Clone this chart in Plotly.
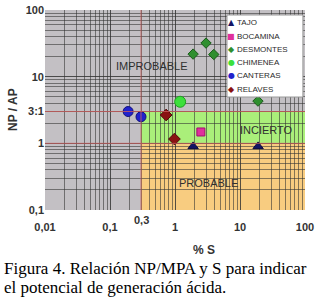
import math
import plotly.graph_objects as go

# ---- data ----
series_names = ["TAJO", "BOCAMINA", "DESMONTES", "CHIMENEA", "CANTERAS", "RELAVES"]
tajo_x = [1.9, 19.0]
tajo_y = [0.9, 0.9]
bocamina_x = [2.5]
bocamina_y = [1.48]
desmontes_x = [1.9, 3.0, 3.95, 18.9]
desmontes_y = [21.8, 31.9, 21.5, 4.3]
chimenea_x = [1.2]
chimenea_y = [4.2]
canteras_x = [0.19, 0.30]
canteras_y = [3.0, 2.5]
relaves_x = [0.73, 0.98]
relaves_y = [2.66, 1.16]

x_tickvals = [0.01, 0.1, 1, 10, 100]
x_ticktext = ["0,01", "0,1", "1", "10", "100"]
y_tickvals = [0.1, 1, 3, 10, 100]
y_ticktext = ["0,1", "1", "3:1", "10", "100"]

# thresholds for zones
s_limit = 0.3
ratio_low = 1
ratio_high = 3

series = [
    (tajo_x, tajo_y, "triangle-up", "#141464", 9, "#0a0a40", "▲"),
    (bocamina_x, bocamina_y, "square", "#e0309c", 8, "#a01070", "■"),
    (desmontes_x, desmontes_y, "diamond", "#2f8f2f", 8, "#1a5a1a", "◆"),
    (chimenea_x, chimenea_y, "circle", "#3ce03c", 11, "#20a020", "●"),
    (canteras_x, canteras_y, "circle", "#2222cc", 10, "#10107a", "●"),
    (relaves_x, relaves_y, "diamond", "#8a1212", 9, "#500808", "◆"),
]

fig = go.Figure()

for (xs, ys, sym, col, size, edge, glyph), name in zip(series, series_names):
    fig.add_trace(go.Scatter(
        x=xs, y=ys, mode="markers", name=name, showlegend=False,
        marker=dict(symbol=sym, color=col, size=size, line=dict(color=edge, width=1)),
    ))

# ---- zones ----
fig.add_shape(type="rect", xref="x", yref="y", x0=s_limit, x1=100, y0=ratio_low, y1=ratio_high,
              fillcolor="#aaef7a", line=dict(width=0), layer="below")
fig.add_shape(type="rect", xref="x", yref="y", x0=s_limit, x1=100, y0=0.1, y1=ratio_low,
              fillcolor="#f8cc80", line=dict(width=0), layer="below")

# red limit lines
red = "rgba(205,95,95,0.8)"
for yv in [ratio_low, ratio_high]:
    fig.add_shape(type="line", xref="paper", yref="y", x0=0, x1=1, y0=yv, y1=yv,
                  line=dict(color=red, width=1))
fig.add_shape(type="line", xref="x", yref="paper", x0=s_limit, x1=s_limit, y0=0, y1=1,
              line=dict(color=red, width=1))

# ---- compact legend box (paper coordinates) ----
leg_x0, leg_x1 = 0.70, 0.992
leg_y1, leg_y0 = 0.975, 0.565
fig.add_shape(type="rect", xref="paper", yref="paper", x0=leg_x0, x1=leg_x1, y0=leg_y0, y1=leg_y1,
              fillcolor="white", line=dict(color="#9a9a9a", width=1), layer="above")
row_h = 0.0665
first_row = 0.936
for i, (xs, ys, sym, col, size, edge, glyph) in enumerate(series):
    yy = first_row - i * row_h
    fig.add_annotation(
        x=0.717, y=yy, xref="paper", yref="paper", text=glyph, showarrow=False,
        xanchor="center", yanchor="middle",
        font=dict(family="DejaVu Sans", size=8, color=col),
    )
    fig.add_annotation(
        x=0.732, y=yy, xref="paper", yref="paper", text=series_names[i], showarrow=False,
        xanchor="left", yanchor="middle",
        font=dict(family="Liberation Sans", size=8, color="#2a2a2a"),
    )

# zone labels
zone_font = dict(family="Liberation Sans", size=11, color="#303030")
fig.add_annotation(x=math.log10(0.44), y=math.log10(14.4), text="IMPROBABLE", showarrow=False, font=zone_font)
fig.add_annotation(x=math.log10(26), y=math.log10(1.58), text="INCIERTO", showarrow=False, font=zone_font)
fig.add_annotation(x=math.log10(3.3), y=math.log10(0.254), text="PROBABLE", showarrow=False, font=zone_font)

tick_font = dict(family="Liberation Sans", size=11, color="#333333", weight="bold")

# extra 0,3 label
fig.add_annotation(x=math.log10(s_limit), y=-0.05, xref="x", yref="paper", text="0,3",
                   showarrow=False, yanchor="middle", font=tick_font)

# axis titles
title_font = dict(family="Liberation Sans", size=12, color="#333333", weight="bold")
fig.add_annotation(x=0.61, y=-0.2, xref="paper", yref="paper", text="% S", showarrow=False,
                   yanchor="middle", font=title_font)
fig.add_annotation(x=-0.123, y=0.5, xref="paper", yref="paper", text="NP / AP", showarrow=False,
                   textangle=-90, xanchor="center", yanchor="middle", font=title_font)

# caption
cap_font = dict(family="Liberation Serif", size=17, color="black")
fig.add_annotation(x=-0.165, y=-0.29, xref="paper", yref="paper",
                   text="Figura 4. Relación NP/MPA y S para indicar", showarrow=False,
                   xanchor="left", yanchor="middle", font=cap_font)
fig.add_annotation(x=-0.165, y=-0.385, xref="paper", yref="paper",
                   text="el potencial de generación ácida.", showarrow=False,
                   xanchor="left", yanchor="middle", font=cap_font)

grid_col = "rgba(50,50,50,0.58)"
fig.update_layout(
    template="none",
    width=322, height=303,
    margin=dict(l=45, r=17, t=10, b=93, pad=0),
    paper_bgcolor="white",
    plot_bgcolor="#c3c0c4",
    showlegend=False,
    xaxis=dict(type="log", range=[-2, 2], tickvals=x_tickvals, ticktext=x_ticktext,
               automargin=False,
               showgrid=True, gridcolor=grid_col, gridwidth=1, zeroline=False,
               showline=False, ticks="outside", ticklen=7, tickcolor="rgba(0,0,0,0)",
               tickfont=tick_font,
               minor=dict(dtick="D1", showgrid=True, gridcolor=grid_col, gridwidth=1, ticks="")),
    yaxis=dict(type="log", range=[-1, 2], tickvals=y_tickvals, ticktext=y_ticktext,
               automargin=False,
               showgrid=True, gridcolor=grid_col, gridwidth=1, zeroline=False,
               showline=False, ticks="", tickfont=tick_font,
               minor=dict(dtick="D1", showgrid=True, gridcolor=grid_col, gridwidth=1, ticks="")),
)

fig.write_html("out.html", config={"displayModeBar": False},
               post_script="document.body.style.margin='0px';")
